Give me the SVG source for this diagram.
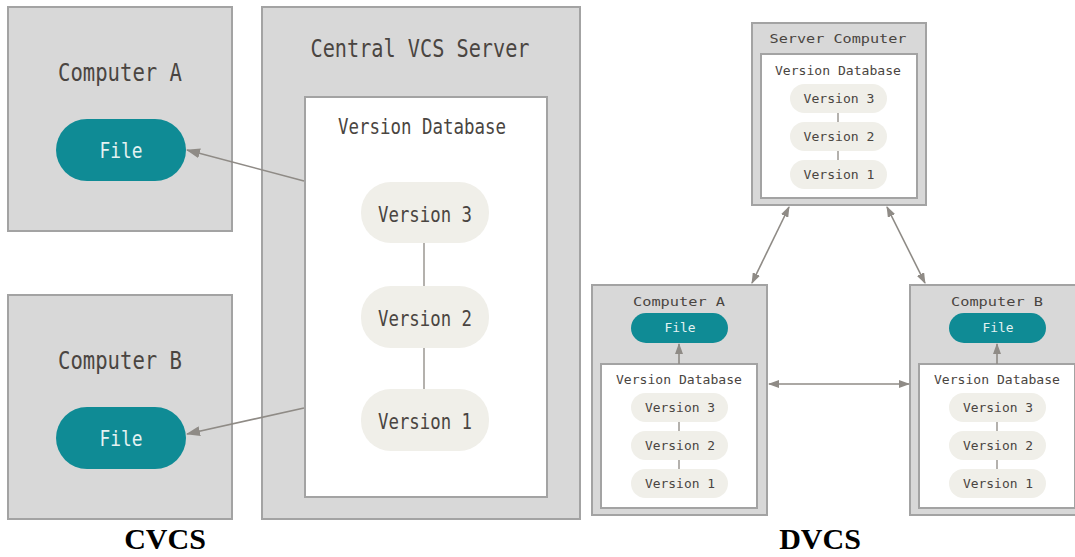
<svg xmlns="http://www.w3.org/2000/svg" width="1075" height="557" viewBox="0 0 1075 557">
  <style>
    .box { fill: #d8d8d8; stroke: #a3a3a3; stroke-width: 2; }
    .db { fill: #ffffff; stroke: #a3a3a3; stroke-width: 2; }
    .ver { fill: #f0efe9; }
    .file { fill: #0f8b95; }
    .t { font-family: "DejaVu Sans Mono", "Liberation Mono", monospace; fill: #4a4541; text-anchor: middle; }
    .ft { font-family: "DejaVu Sans Mono", "Liberation Mono", monospace; fill: #e4f2f2; text-anchor: middle; }
    .link { stroke: #9b9792; stroke-width: 1.5; fill: none; }
    .arrow { stroke: #8f8b86; stroke-width: 1.6; fill: none; }
    .cap { font-family: "Liberation Serif", "Times New Roman", serif; font-weight: bold; font-size: 30px; fill: #000; text-anchor: middle; }
  </style>
  <defs>
    <marker id="headL" viewBox="0 0 14 10" refX="13" refY="5" markerWidth="14" markerHeight="10" markerUnits="userSpaceOnUse" orient="auto-start-reverse">
      <path d="M0,0 L14,5 L0,10 z" fill="#8f8b86"/>
    </marker>
    <marker id="headS" viewBox="0 0 11 8" refX="10" refY="4" markerWidth="11" markerHeight="8" markerUnits="userSpaceOnUse" orient="auto-start-reverse">
      <path d="M0,0 L11,4 L0,8 z" fill="#8f8b86"/>
    </marker>
  </defs>

  <!-- ===== Centralized layout ===== -->
  <g id="cvcs-computer-a">
    <rect class="box" x="8" y="7" width="224" height="224"/>
    <text class="t" x="120" y="81" font-size="24" textLength="124" lengthAdjust="spacingAndGlyphs">Computer A</text>
    <rect class="file" x="56" y="119" width="130" height="62" rx="31"/>
    <text class="ft" x="121" y="158" font-size="21" textLength="43" lengthAdjust="spacingAndGlyphs">File</text>
  </g>

  <g id="cvcs-computer-b">
    <rect class="box" x="8" y="295" width="224" height="224"/>
    <text class="t" x="120" y="369" font-size="24" textLength="124" lengthAdjust="spacingAndGlyphs">Computer B</text>
    <rect class="file" x="56" y="407" width="130" height="62" rx="31"/>
    <text class="ft" x="121" y="446" font-size="21" textLength="43" lengthAdjust="spacingAndGlyphs">File</text>
  </g>

  <g id="cvcs-server">
    <rect class="box" x="262" y="7" width="318" height="512"/>
    <text class="t" x="420" y="57" font-size="24" textLength="219" lengthAdjust="spacingAndGlyphs">Central VCS Server</text>
    <rect class="db" x="305" y="97" width="242" height="400"/>
    <text class="t" x="422" y="134" font-size="21" textLength="168" lengthAdjust="spacingAndGlyphs">Version Database</text>
    <line class="link" x1="424" y1="243" x2="424" y2="286"/>
    <line class="link" x1="424" y1="348" x2="424" y2="389"/>
    <rect class="ver" x="361" y="182" width="128" height="61" rx="30"/>
    <text class="t" x="425" y="222" font-size="22" textLength="94" lengthAdjust="spacingAndGlyphs">Version 3</text>
    <rect class="ver" x="361" y="286" width="128" height="62" rx="30"/>
    <text class="t" x="425" y="326" font-size="22" textLength="94" lengthAdjust="spacingAndGlyphs">Version 2</text>
    <rect class="ver" x="361" y="389" width="128" height="62" rx="30"/>
    <text class="t" x="425" y="429" font-size="22" textLength="94" lengthAdjust="spacingAndGlyphs">Version 1</text>
  </g>

  <g id="cvcs-connectors">
    <line class="arrow" x1="304" y1="181" x2="187" y2="150" marker-end="url(#headL)"/>
    <line class="arrow" x1="304" y1="408" x2="187" y2="434" marker-end="url(#headL)"/>
  </g>

  <!-- ===== Distributed layout ===== -->
  <g id="dvcs-server">
    <rect class="box" x="752" y="23" width="174" height="182" stroke-width="1.5"/>
    <text class="t" x="838" y="43" font-size="13" textLength="137" lengthAdjust="spacingAndGlyphs">Server Computer</text>
    <rect class="db" x="761" y="54" width="156" height="144" stroke-width="1.5"/>
    <text class="t" x="838" y="75" font-size="13" textLength="126" lengthAdjust="spacingAndGlyphs">Version Database</text>
    <line class="link" x1="838" y1="113" x2="838" y2="122" stroke-width="1"/>
    <line class="link" x1="838" y1="151" x2="838" y2="160" stroke-width="1"/>
    <rect class="ver" x="790" y="84" width="97" height="29" rx="14.5"/>
    <text class="t" x="839" y="103" font-size="13" textLength="71" lengthAdjust="spacingAndGlyphs">Version 3</text>
    <rect class="ver" x="790" y="122" width="97" height="29" rx="14.5"/>
    <text class="t" x="839" y="141" font-size="13" textLength="71" lengthAdjust="spacingAndGlyphs">Version 2</text>
    <rect class="ver" x="790" y="160" width="97" height="29" rx="14.5"/>
    <text class="t" x="839" y="179" font-size="13" textLength="71" lengthAdjust="spacingAndGlyphs">Version 1</text>
  </g>

  <g id="dvcs-computer-a">
    <rect class="box" x="592" y="285" width="175" height="230" stroke-width="1.5"/>
    <text class="t" x="679" y="306" font-size="13" textLength="92" lengthAdjust="spacingAndGlyphs">Computer A</text>
    <rect class="file" x="631" y="313" width="97" height="30" rx="15"/>
    <text class="ft" x="680" y="332" font-size="13" textLength="31" lengthAdjust="spacingAndGlyphs">File</text>
    <rect class="db" x="601" y="364" width="156" height="144" stroke-width="1.5"/>
    <text class="t" x="679" y="384" font-size="13" textLength="126" lengthAdjust="spacingAndGlyphs">Version Database</text>
    <line class="link" x1="679" y1="422" x2="679" y2="431" stroke-width="1"/>
    <line class="link" x1="679" y1="460" x2="679" y2="469" stroke-width="1"/>
    <rect class="ver" x="631" y="393" width="97" height="29" rx="14.5"/>
    <text class="t" x="680" y="412" font-size="13" textLength="70" lengthAdjust="spacingAndGlyphs">Version 3</text>
    <rect class="ver" x="631" y="431" width="97" height="29" rx="14.5"/>
    <text class="t" x="680" y="450" font-size="13" textLength="70" lengthAdjust="spacingAndGlyphs">Version 2</text>
    <rect class="ver" x="631" y="469" width="97" height="29" rx="14.5"/>
    <text class="t" x="680" y="488" font-size="13" textLength="70" lengthAdjust="spacingAndGlyphs">Version 1</text>
  </g>

  <g id="dvcs-computer-b">
    <rect class="box" x="910" y="285" width="175" height="230" stroke-width="1.5"/>
    <text class="t" x="997" y="306" font-size="13" textLength="92" lengthAdjust="spacingAndGlyphs">Computer B</text>
    <rect class="file" x="949" y="313" width="97" height="30" rx="15"/>
    <text class="ft" x="998" y="332" font-size="13" textLength="31" lengthAdjust="spacingAndGlyphs">File</text>
    <rect class="db" x="919" y="364" width="156" height="144" stroke-width="1.5"/>
    <text class="t" x="997" y="384" font-size="13" textLength="126" lengthAdjust="spacingAndGlyphs">Version Database</text>
    <line class="link" x1="997" y1="422" x2="997" y2="431" stroke-width="1"/>
    <line class="link" x1="997" y1="460" x2="997" y2="469" stroke-width="1"/>
    <rect class="ver" x="949" y="393" width="97" height="29" rx="14.5"/>
    <text class="t" x="998" y="412" font-size="13" textLength="70" lengthAdjust="spacingAndGlyphs">Version 3</text>
    <rect class="ver" x="949" y="431" width="97" height="29" rx="14.5"/>
    <text class="t" x="998" y="450" font-size="13" textLength="70" lengthAdjust="spacingAndGlyphs">Version 2</text>
    <rect class="ver" x="949" y="469" width="97" height="29" rx="14.5"/>
    <text class="t" x="998" y="488" font-size="13" textLength="70" lengthAdjust="spacingAndGlyphs">Version 1</text>
  </g>

  <g id="dvcs-connectors">
    <line class="arrow" x1="789" y1="207" x2="752" y2="283" stroke-width="1.2" marker-start="url(#headS)" marker-end="url(#headS)"/>
    <line class="arrow" x1="887" y1="207" x2="925" y2="283" stroke-width="1.2" marker-start="url(#headS)" marker-end="url(#headS)"/>
    <line class="arrow" x1="769" y1="384" x2="909" y2="384" stroke-width="1.2" marker-start="url(#headS)" marker-end="url(#headS)"/>
    <line class="arrow" x1="679" y1="364" x2="679" y2="344" stroke-width="1.2" marker-end="url(#headS)"/>
    <line class="arrow" x1="997" y1="364" x2="997" y2="344" stroke-width="1.2" marker-end="url(#headS)"/>
  </g>

  <!-- captions -->
  <text class="cap" x="165" y="549">CVCS</text>
  <text class="cap" x="820" y="549">DVCS</text>
</svg>
